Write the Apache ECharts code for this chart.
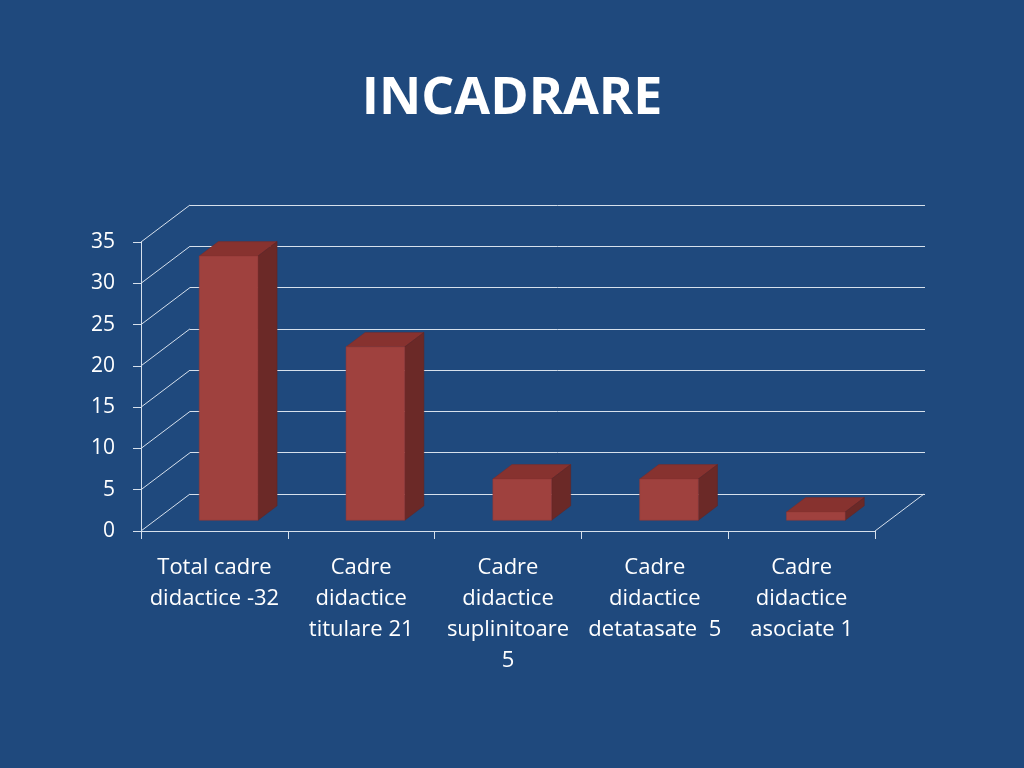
<!DOCTYPE html>
<html>
<head>
<meta charset="utf-8">
<script src="https://cdn.jsdelivr.net/npm/echarts@6/dist/echarts.min.js"></script>
<style>
html,body{margin:0;padding:0;background:#1F497D;}
#c{width:1024px;height:768px;}
</style>
</head>
<body>
<div id="c"></div>
<script>
var titleText = 'INCADRARE';
var categories = [
  'Total cadre\ndidactice -32',
  'Cadre\ndidactice\ntitulare 21',
  'Cadre\ndidactice\nsuplinitoare\n5',
  'Cadre\ndidactice\ndetatasate  5',
  'Cadre\ndidactice\nasociate 1'
];
var values = [32, 21, 5, 5, 1];
var yTicks = [0, 5, 10, 15, 20, 25, 30, 35];

var DX = 49, DY = 37;          // depth of the floor in pixels
var F0 = 0.29;                 // bar front position as fraction of depth
var BD = 0.39;                 // bar depth fraction
var lineColor = '#D6E0EC';

var chart = echarts.init(document.getElementById('c'));
chart.setOption({
  backgroundColor: '#1F497D',
  animation: false,
  title: {
    text: titleText,
    left: 'center',
    top: 63,
    textStyle: {color: '#FFFFFF', fontFamily: 'Open Sans', fontWeight: 'bold', fontSize: 52, lineHeight: 62}
  },
  grid: [
    {left: 141, right: 149, top: 242, bottom: 237},
    {left: 190, right: 99, top: 205, bottom: 274}
  ],
  xAxis: [
    {
      type: 'category', gridIndex: 0, data: categories,
      axisLine: {show: true, lineStyle: {color: lineColor, width: 1}},
      axisTick: {show: true, length: 8, lineStyle: {color: lineColor}},
      axisLabel: {color: '#FFFFFF', fontFamily: 'Open Sans', fontSize: 22, lineHeight: 31, margin: 21, interval: 0},
      splitLine: {show: false}
    },
    {
      type: 'category', gridIndex: 1, data: categories,
      axisLine: {show: false}, axisTick: {show: false}, axisLabel: {show: false}, splitLine: {show: false}
    }
  ],
  yAxis: [
    {
      type: 'value', gridIndex: 0, min: 0, max: 35, interval: 5,
      axisLine: {show: true, lineStyle: {color: lineColor, width: 1}},
      axisTick: {show: true, length: 8, lineStyle: {color: lineColor}},
      axisLabel: {color: '#FFFFFF', fontFamily: 'Open Sans', fontSize: 21, margin: 26},
      splitLine: {show: false}
    },
    {
      type: 'value', gridIndex: 1, min: 0, max: 35, interval: 5,
      axisLine: {show: false}, axisTick: {show: false}, axisLabel: {show: false},
      splitLine: {show: true, lineStyle: {color: lineColor, width: 1}}
    }
  ],
  series: [
    {
      type: 'custom', xAxisIndex: 0, yAxisIndex: 0, z: 1, silent: true,
      data: yTicks.map(function (t) { return [0, t]; }),
      encode: {x: 0, y: 1},
      renderItem: function (params, api) {
        var cs = params.coordSys;
        var y = api.coord([0, api.value(1)])[1];
        var children = [{
          type: 'line',
          shape: {x1: cs.x, y1: y, x2: cs.x + DX, y2: y - DY},
          style: {stroke: lineColor, lineWidth: 1}
        }];
        if (api.value(1) === 0) {
          children.push({
            type: 'line',
            shape: {x1: cs.x + cs.width, y1: y, x2: cs.x + cs.width + DX, y2: y - DY},
            style: {stroke: lineColor, lineWidth: 1}
          });
        }
        return {type: 'group', children: children};
      }
    },
    {
      type: 'custom', xAxisIndex: 0, yAxisIndex: 0, z: 3, silent: true,
      data: values.map(function (v, i) { return [i, v]; }),
      encode: {x: 0, y: 1},
      renderItem: function (params, api) {
        var top = api.coord([api.value(0), api.value(1)]);
        var base = api.coord([api.value(0), 0]);
        var w = api.size([1, 0])[0] * 0.4;
        var ox = DX * F0, oy = DY * F0;
        var dx = DX * BD, dy = DY * BD;
        var x0 = top[0] - w / 2 + ox, x1 = x0 + w;
        var yt = top[1] - oy, yb = base[1] - oy;
        return {
          type: 'group',
          children: [
            {type: 'polygon', shape: {points: [[x0, yt], [x1, yt], [x1 + dx, yt - dy], [x0 + dx, yt - dy]]},
              style: {fill: '#87322F', stroke: '#7A2B29', lineWidth: 0.5}},
            {type: 'polygon', shape: {points: [[x1, yt], [x1 + dx, yt - dy], [x1 + dx, yb - dy], [x1, yb]]},
              style: {fill: '#6B2927', stroke: '#622422', lineWidth: 0.5}},
            {type: 'rect', shape: {x: x0, y: yt, width: w, height: yb - yt},
              style: {fill: '#9F413E', stroke: '#8E3936', lineWidth: 0.5}}
          ]
        };
      }
    }
  ]
});
</script>
</body>
</html>
